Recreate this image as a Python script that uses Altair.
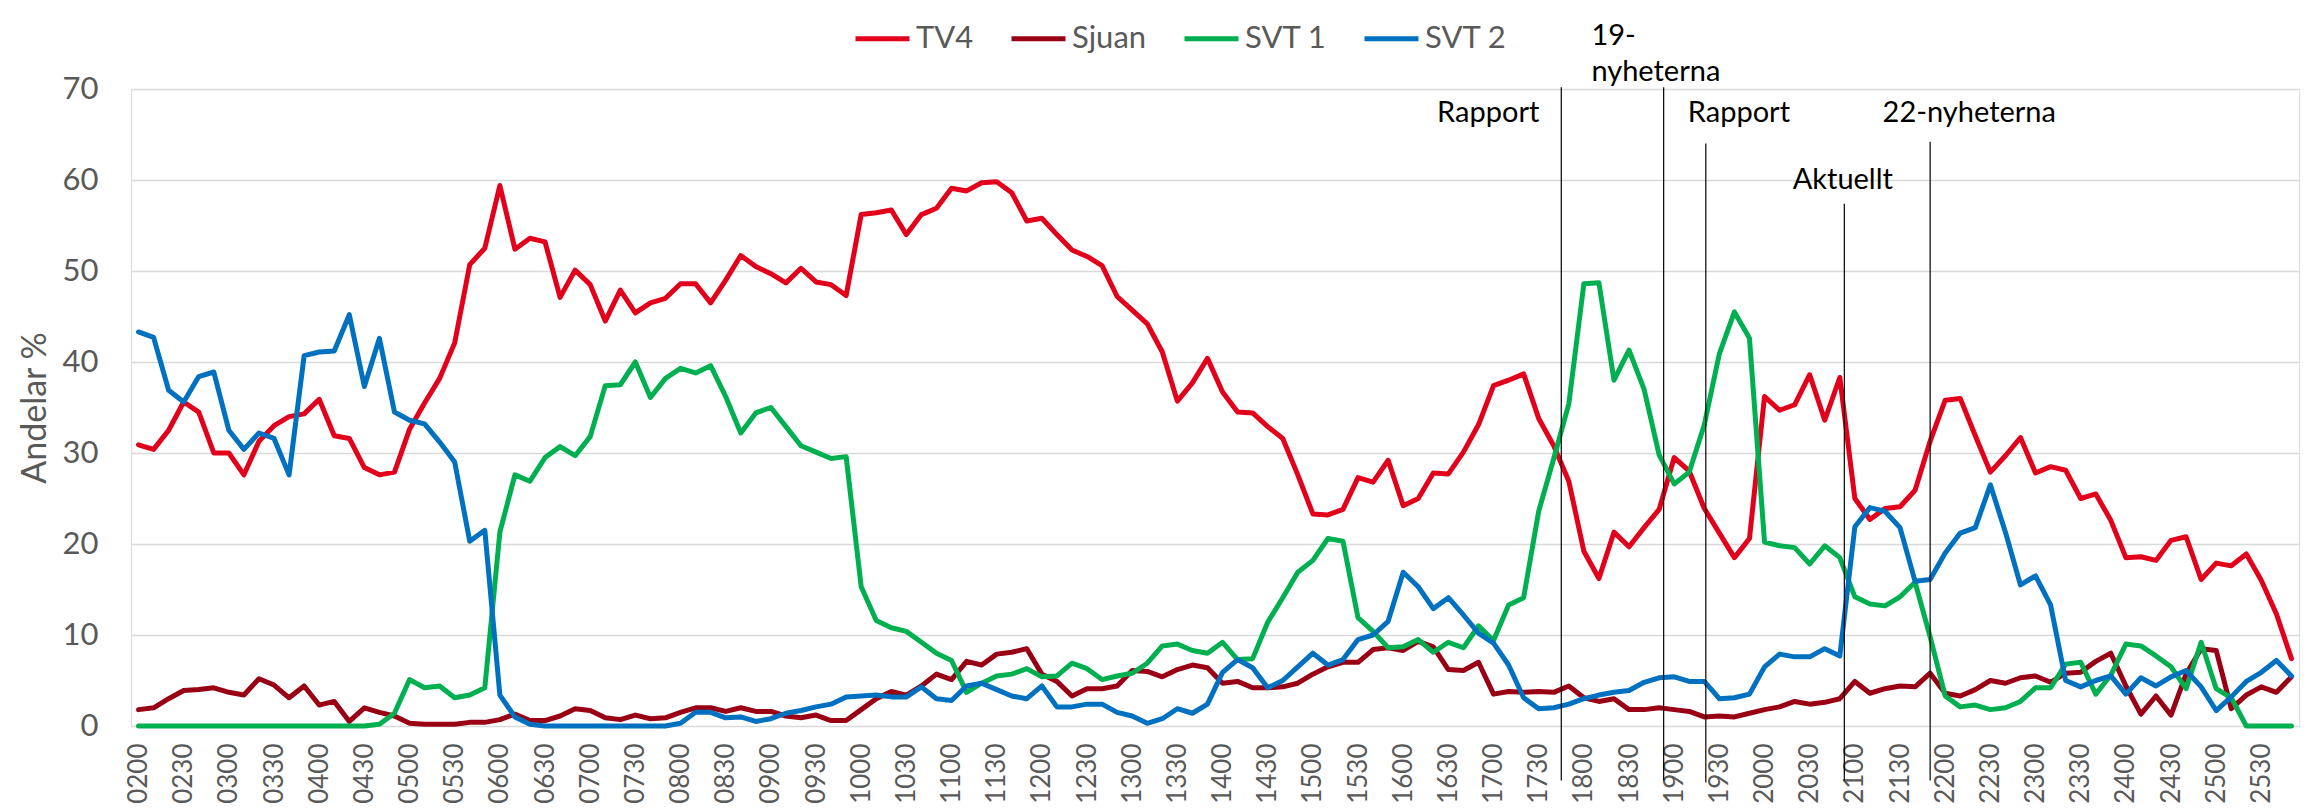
import altair as alt
import pandas as pd

# time slots (categories), every 10 minutes from 02:00 to 25:50
times = [f"{(120 + 10 * i) // 60:02d}{(120 + 10 * i) % 60:02d}" for i in range(144)]

channels = ["TV4", "Sjuan", "SVT 1", "SVT 2"]
colors = ["#E2001A", "#990014", "#00B050", "#0070C0"]

tv4 = [30.9, 30.4, 32.5, 35.6, 34.5, 30.0, 30.0, 27.6, 31.3, 33.0, 34.0, 34.3, 35.9, 31.9, 31.6, 28.4, 27.6, 27.9, 32.6, 35.5, 38.2, 42.1, 50.7, 52.5,
       59.4, 52.4, 53.6, 53.2, 47.1, 50.1, 48.5, 44.5, 47.9, 45.4, 46.5, 47.0, 48.6, 48.6, 46.5, 49.0, 51.7, 50.5, 49.7, 48.7, 50.3, 48.8, 48.5, 47.3,
       56.2, 56.4, 56.7, 54.0, 56.2, 56.9, 59.1, 58.8, 59.7, 59.8, 58.6, 55.5, 55.8, 54.0, 52.3, 51.6, 50.6, 47.2, 45.7, 44.2, 41.1, 35.7, 37.7, 40.4,
       36.7, 34.5, 34.4, 32.9, 31.6, 27.6, 23.3, 23.2, 23.8, 27.3, 26.8, 29.2, 24.2, 25.0, 27.8, 27.7, 30.1, 33.1, 37.4, 38.0, 38.7, 33.8, 30.8, 26.9,
       19.2, 16.2, 21.3, 19.7, 21.8, 23.8, 29.5, 28.0, 23.9, 21.2, 18.5, 20.6, 36.2, 34.7, 35.3, 38.6, 33.6, 38.3, 25.0, 22.7, 23.9, 24.1, 25.9, 31.3,
       35.8, 36.0, 31.9, 27.9, 29.7, 31.7, 27.8, 28.5, 28.1, 25.0, 25.5, 22.6, 18.5, 18.6, 18.2, 20.4, 20.8, 16.1, 17.9, 17.6, 18.9, 16.0, 12.3, 7.4]

sjuan = [1.8, 2.0, 3.0, 3.9, 4.0, 4.2, 3.7, 3.4, 5.2, 4.5, 3.1, 4.4, 2.3, 2.7, 0.5, 2.0, 1.5, 1.1, 0.3, 0.2, 0.2, 0.2, 0.4, 0.4,
         0.7, 1.3, 0.6, 0.6, 1.1, 1.9, 1.7, 0.9, 0.7, 1.2, 0.8, 0.9, 1.5, 2.0, 2.0, 1.6, 2.0, 1.6, 1.6, 1.1, 0.9, 1.2, 0.6, 0.6,
         1.8, 3.0, 3.8, 3.4, 4.4, 5.7, 5.1, 7.1, 6.7, 7.9, 8.1, 8.5, 5.7, 4.9, 3.3, 4.1, 4.1, 4.4, 6.1, 6.0, 5.4, 6.2, 6.7, 6.4,
         4.7, 4.9, 4.2, 4.2, 4.3, 4.7, 5.7, 6.5, 7.0, 7.0, 8.4, 8.6, 8.3, 9.3, 8.7, 6.2, 6.1, 7.0, 3.5, 3.8, 3.7, 3.8, 3.7, 4.4,
         3.1, 2.7, 3.0, 1.8, 1.8, 2.0, 1.8, 1.6, 1.0, 1.1, 1.0, 1.4, 1.8, 2.1, 2.7, 2.4, 2.6, 3.0, 4.9, 3.6, 4.1, 4.4, 4.3, 5.8,
         3.6, 3.3, 4.0, 5.0, 4.7, 5.3, 5.5, 4.8, 5.8, 5.9, 7.1, 8.0, 4.4, 1.3, 3.3, 1.2, 5.7, 8.5, 8.3, 1.9, 3.4, 4.3, 3.7, 5.4]

svt1 = [0, 0, 0, 0, 0, 0, 0, 0, 0, 0, 0, 0, 0, 0, 0, 0, 0.2, 1.4, 5.1, 4.2, 4.4, 3.1, 3.4, 4.2,
        21.3, 27.6, 26.9, 29.5, 30.7, 29.7, 31.8, 37.4, 37.5, 40.0, 36.1, 38.2, 39.3, 38.8, 39.6, 36.2, 32.2, 34.4, 35.0, 32.9, 30.8, 30.1, 29.4, 29.6,
        15.3, 11.6, 10.8, 10.4, 9.2, 8.0, 7.2, 3.7, 4.7, 5.5, 5.7, 6.3, 5.4, 5.5, 6.9, 6.3, 5.1, 5.5, 5.8, 6.9, 8.8, 9.0, 8.3, 8.0,
        9.2, 7.3, 7.4, 11.4, 14.1, 16.9, 18.2, 20.6, 20.3, 11.9, 10.4, 8.6, 8.7, 9.5, 8.1, 9.2, 8.6, 11.0, 9.4, 13.3, 14.1, 23.6, 29.4, 35.4,
        48.6, 48.7, 38.0, 41.3, 37.0, 29.8, 26.6, 27.9, 33.1, 40.9, 45.5, 42.6, 20.2, 19.8, 19.6, 17.8, 19.8, 18.5, 14.2, 13.4, 13.2, 14.2, 15.8, 9.8,
        3.3, 2.1, 2.3, 1.8, 2.0, 2.7, 4.2, 4.2, 6.8, 7.0, 3.5, 5.6, 9.0, 8.8, 7.7, 6.5, 4.1, 9.2, 4.1, 3.1, 0, 0, 0, 0]

svt2 = [43.3, 42.7, 36.9, 35.6, 38.4, 38.9, 32.5, 30.4, 32.2, 31.6, 27.6, 40.7, 41.1, 41.2, 45.2, 37.3, 42.6, 34.5, 33.6, 33.2, 31.2, 29.0, 20.3, 21.5,
        3.4, 1.0, 0.2, 0, 0, 0, 0, 0, 0, 0, 0, 0, 0.3, 1.5, 1.5, 0.9, 1.0, 0.5, 0.8, 1.4, 1.7, 2.1, 2.4, 3.2,
        3.3, 3.4, 3.2, 3.2, 4.3, 3.0, 2.8, 4.4, 4.7, 4.0, 3.3, 3.0, 4.4, 2.1, 2.1, 2.4, 2.4, 1.5, 1.1, 0.3, 0.8, 1.9, 1.4, 2.4,
        5.9, 7.3, 6.4, 4.2, 5.0, 6.5, 8.0, 6.7, 7.3, 9.5, 10.0, 11.5, 16.9, 15.3, 12.9, 14.1, 12.2, 10.2, 9.1, 6.7, 3.1, 1.9, 2.0, 2.4,
        3.0, 3.4, 3.7, 3.9, 4.8, 5.3, 5.4, 4.9, 4.9, 3.0, 3.1, 3.5, 6.5, 7.9, 7.6, 7.6, 8.5, 7.7, 21.9, 24.0, 23.6, 21.8, 15.9, 16.1,
        19.0, 21.2, 21.8, 26.5, 21.3, 15.5, 16.5, 13.3, 5.0, 4.3, 5.0, 5.5, 3.5, 5.3, 4.4, 5.4, 6.1, 4.3, 1.7, 3.2, 4.9, 5.9, 7.2, 5.5]

# program markers (position in time-slot index units, vertical extent in %)
marker_x = [94.5, 101.3, 104.1, 113.3, 119.0]
marker_top = [70.2, 70.2, 64.0, 57.4, 64.2]
marker_bottom = [-6.0, -6.0, -6.2, -6.0, -6.0]

label_text_c = ["Rapport", "Rapport", "Aktuellt", "22-nyheterna"]
label_x_c = [89.65, 106.3, 113.2, 121.6]
label_y_c = [67.4, 67.4, 60.0, 67.4]
label_text_l = ["19-", "nyheterna"]
label_x_l = [96.5, 96.5]
label_y_l = [75.8, 71.9]

rows = []
for name, series in zip(channels, [tv4, sjuan, svt1, svt2]):
    for i, v in enumerate(series):
        rows.append({"idx": i, "tid": times[i], "Kanal": name, "Andel": v})
df = pd.DataFrame(rows)

rules_df = pd.DataFrame({"x": marker_x, "top": marker_top, "bottom": marker_bottom})
text_c_df = pd.DataFrame({"x": label_x_c, "y": label_y_c, "t": label_text_c})
text_l_df = pd.DataFrame({"x": label_x_l, "y": label_y_l, "t": label_text_l})

tick_vals = list(range(0, 144, 3))
label_expr = "[" + ",".join(f"'{t}'" for t in times) + "][datum.value]"

x_scale = alt.Scale(domain=[-0.5, 143.5], nice=False, zero=False)
y_scale = alt.Scale(domain=[0, 70], nice=False)

lines = alt.Chart(df).mark_line(strokeWidth=5, strokeJoin="round", strokeCap="round").encode(
    x=alt.X("idx:Q", scale=x_scale,
            axis=alt.Axis(values=tick_vals, labelExpr=label_expr, labelAngle=270, title=None,
                          grid=False, ticks=False, tickSize=0, domain=False, labelPadding=17,
                          labelFontSize=26, labelColor="#595959", labelFont="Lato")),
    y=alt.Y("Andel:Q", scale=y_scale,
            axis=alt.Axis(values=[0, 10, 20, 30, 40, 50, 60, 70], title="Andelar %",
                          titleFontSize=34, titleFont="Lato", titleFontWeight="normal",
                          titleColor="#595959", titlePadding=10,
                          grid=True, gridColor="#D9D9D9", gridWidth=1.5,
                          ticks=False, tickSize=0, domain=False, labelPadding=33,
                          labelFontSize=31, labelColor="#595959", labelFont="Lato")),
    color=alt.Color("Kanal:N", scale=alt.Scale(domain=channels, range=colors),
                    legend=alt.Legend(title=None, orient="none", direction="horizontal",
                                      legendX=722, legendY=-80, padding=0,
                                      symbolType="stroke", symbolSize=2916, symbolStrokeWidth=5,
                                      labelFontSize=31, labelFont="Lato", labelColor="#595959",
                                      labelOffset=4, columnPadding=27)),
    order=alt.Order("idx:Q"),
)

rules = alt.Chart(rules_df).mark_rule(color="black", strokeWidth=1.2).encode(
    x=alt.X("x:Q", scale=x_scale),
    y=alt.Y("top:Q", scale=y_scale),
    y2="bottom:Q",
)

texts_c = alt.Chart(text_c_df).mark_text(font="Lato", fontSize=29, color="black",
                                         align="center", baseline="middle").encode(
    x=alt.X("x:Q", scale=x_scale), y=alt.Y("y:Q", scale=y_scale), text="t:N")

texts_l = alt.Chart(text_l_df).mark_text(font="Lato", fontSize=29, color="black",
                                         align="left", baseline="middle").encode(
    x=alt.X("x:Q", scale=x_scale), y=alt.Y("y:Q", scale=y_scale), text="t:N")

chart = alt.layer(lines, rules, texts_c, texts_l).properties(
    width=2168, height=637,
    padding={"left": 123, "top": 81, "right": 4, "bottom": 78},
    autosize=alt.AutoSizeParams(type="none"),
).configure_view(stroke=None).configure(font="Lato")

chart.save("out.html", embed_options={"renderer": "svg", "actions": False})
